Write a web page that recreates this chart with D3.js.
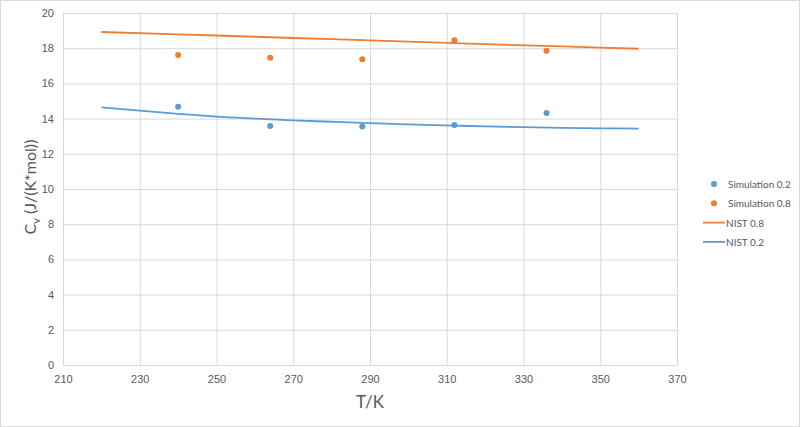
<!DOCTYPE html>
<html>
<head>
<meta charset="utf-8">
<script src="https://cdn.jsdelivr.net/npm/d3@7"></script>
<style>
	body { margin: 0; background: #fff; }
	svg { font-family: Lato, "Open Sans", sans-serif; }
	.grid line { stroke: #d9d9d9; stroke-width: 1; }
	.tick text { fill: #595959; font-size: 11px; }
</style>
</head>
<body>
<div class="graph"></div>
<script>
// simulated points
var simT = [240, 264, 288, 312, 336];
var sim02 = [14.68, 13.58, 13.55, 13.63, 14.32];
var sim08 = [17.61, 17.46, 17.37, 18.45, 17.86];

// NIST reference curves
var nistT08 = [220, 240, 260, 280, 300, 320, 340, 360];
var nist08 = [18.92, 18.79, 18.65, 18.51, 18.37, 18.23, 18.10, 17.97];
var nistT02 = [220, 230, 240, 250, 260, 270, 280, 290, 300, 310, 320, 330, 340, 350, 360];
var nist02 = [14.64, 14.45, 14.27, 14.11, 14.00, 13.90, 13.82, 13.74, 13.67, 13.61, 13.56, 13.51, 13.47, 13.45, 13.43];

var xTicks = [210, 230, 250, 270, 290, 310, 330, 350, 370];
var yTicks = [0, 2, 4, 6, 8, 10, 12, 14, 16, 18, 20];

var legendNames = ["Simulation 0.2", "Simulation 0.8", "NIST 0.8", "NIST 0.2"];

const WIDTH = 800;
const HEIGHT = 427;
const LEFT = 63, TOP = 13, RIGHT = 677, BOTTOM = 365;
const BLUE = "#5b9bd5", ORANGE = "#ed7d31";

var xScale = d3.scaleLinear().domain([210, 370]).range([LEFT, RIGHT]);
var yScale = d3.scaleLinear().domain([0, 20]).range([BOTTOM, TOP]);

var svg = d3.select(".graph").append("svg")
	.attr("width", WIDTH)
	.attr("height", HEIGHT);

svg.append("rect")
	.attr("x", 0.5).attr("y", 0.5)
	.attr("width", WIDTH - 1).attr("height", HEIGHT - 1)
	.attr("fill", "#fff").attr("stroke", "#d9d9d9");

// gridlines
svg.append("g").attr("class", "grid")
	.attr("transform", "translate(0," + BOTTOM + ")")
	.call(d3.axisBottom(xScale).tickValues(xTicks).tickSize(-(BOTTOM - TOP)).tickFormat(""))
	.call(function(g){ g.select(".domain").remove(); });

svg.append("g").attr("class", "grid")
	.attr("transform", "translate(" + LEFT + ",0)")
	.call(d3.axisLeft(yScale).tickValues(yTicks).tickSize(-(RIGHT - LEFT)).tickFormat(""))
	.call(function(g){ g.select(".domain").remove(); });

// axes
var xAxis = svg.append("g")
	.attr("transform", "translate(0," + BOTTOM + ")")
	.call(d3.axisBottom(xScale).tickValues(xTicks).tickSize(0).tickPadding(10));
xAxis.select(".domain").attr("stroke", "#d9d9d9");

var yAxis = svg.append("g")
	.attr("transform", "translate(" + LEFT + ",0)")
	.call(d3.axisLeft(yScale).tickValues(yTicks).tickSize(0).tickPadding(9));
yAxis.select(".domain").attr("stroke", "#d9d9d9");

// curves
var line = d3.line()
	.x(function(d) { return xScale(d[0]); })
	.y(function(d) { return yScale(d[1]); })
	.curve(d3.curveMonotoneX);

svg.append("path")
	.attr("d", line(d3.zip(nistT08, nist08)))
	.attr("fill", "none").attr("stroke", ORANGE).attr("stroke-width", 1.8);

svg.append("path")
	.attr("d", line(d3.zip(nistT02, nist02)))
	.attr("fill", "none").attr("stroke", BLUE).attr("stroke-width", 1.8);

// points
svg.append("g").selectAll("circle").data(d3.zip(simT, sim02)).enter().append("circle")
	.attr("cx", function(d) { return xScale(d[0]); })
	.attr("cy", function(d) { return yScale(d[1]); })
	.attr("r", 3).attr("fill", BLUE);

svg.append("g").selectAll("circle").data(d3.zip(simT, sim08)).enter().append("circle")
	.attr("cx", function(d) { return xScale(d[0]); })
	.attr("cy", function(d) { return yScale(d[1]); })
	.attr("r", 3).attr("fill", ORANGE);

// axis titles
svg.append("text")
	.attr("x", (LEFT + RIGHT) / 2).attr("y", 408)
	.attr("text-anchor", "middle")
	.attr("fill", "#595959").attr("font-size", 17)
	.text("T/K");

var yTitle = svg.append("text")
	.attr("transform", "translate(36,187) rotate(-90)")
	.attr("text-anchor", "middle")
	.attr("fill", "#595959").attr("font-size", 16);
yTitle.append("tspan").text("C");
yTitle.append("tspan").attr("font-size", 11).attr("dy", 4).text("v");
yTitle.append("tspan").attr("dy", -4).text(" (J/(K*mol))");

// legend
var legend = svg.append("g").selectAll("g").data(legendNames).enter().append("g")
	.attr("transform", function(d, i) { return "translate(703," + (184 + i * 19.3) + ")"; });

legend.each(function(d, i) {
	var g = d3.select(this);
	var c = (i === 0 || i === 3) ? BLUE : ORANGE;
	if (i < 2) {
		g.append("circle").attr("cx", 11).attr("cy", 0).attr("r", 3).attr("fill", c);
	} else {
		g.append("line").attr("x1", 0).attr("x2", 22).attr("y1", 0).attr("y2", 0)
			.attr("stroke", c).attr("stroke-width", 1.8);
	}
	g.append("text")
		.attr("x", i < 2 ? 25 : 23).attr("y", 4)
		.attr("fill", "#595959").attr("font-size", 10)
		.text(d);
});
</script>
</body>
</html>
